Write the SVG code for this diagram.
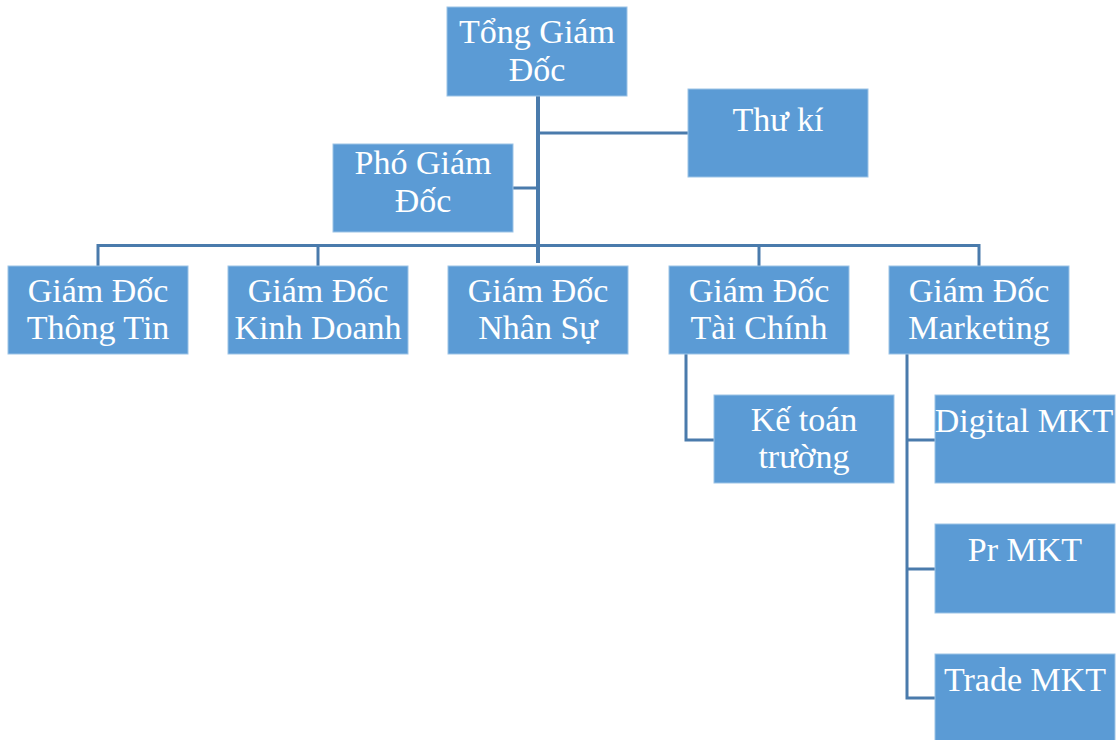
<svg xmlns="http://www.w3.org/2000/svg" width="1118" height="740" viewBox="0 0 1118 740">
<style>
.box{fill:#5B9BD5;stroke:#9cc3e6;stroke-width:1}
.t{font-family:"Liberation Serif","Times New Roman",serif;font-size:34px;fill:#ffffff;text-anchor:middle}
.c{fill:none;stroke:#4A7BAC;stroke-width:3}
</style>
<rect width="1118" height="740" fill="#ffffff"/>
<g id="connectors">
<path class="c" d="M538 96 V263" style="stroke-width:4"/>
<path class="c" d="M538 133 H688"/>
<path class="c" d="M513 188 H538"/>
<path class="c" d="M98 266 V245.5 H979 V266"/>
<path class="c" d="M318 245.5 V266"/>
<path class="c" d="M759 245.5 V266"/>
<path class="c" d="M686 354 V440 H714"/>
<path class="c" d="M907 354 V698 H935"/>
<path class="c" d="M907 440 H935"/>
<path class="c" d="M907 569 H935"/>
</g>
<g id="tong-giam-doc">
<rect class="box" x="447" y="7" width="180" height="89"/>
<text class="t" x="537" y="43">Tổng Giám</text>
<text class="t" x="537" y="81">Đốc</text>
</g>
<g id="thu-ki">
<rect class="box" x="688" y="89" width="180" height="88"/>
<text class="t" x="778" y="131">Thư kí</text>
</g>
<g id="pho-giam-doc">
<rect class="box" x="333" y="144" width="180" height="88"/>
<text class="t" x="423" y="174">Phó Giám</text>
<text class="t" x="423" y="212">Đốc</text>
</g>
<g id="gd-thong-tin">
<rect class="box" x="8" y="266" width="180" height="88"/>
<text class="t" x="98" y="302">Giám Đốc</text>
<text class="t" x="98" y="339">Thông Tin</text>
</g>
<g id="gd-kinh-doanh">
<rect class="box" x="228" y="266" width="180" height="88"/>
<text class="t" x="318" y="302">Giám Đốc</text>
<text class="t" x="318" y="339">Kinh Doanh</text>
</g>
<g id="gd-nhan-su">
<rect class="box" x="448" y="266" width="180" height="88"/>
<text class="t" x="538" y="302">Giám Đốc</text>
<text class="t" x="538" y="339">Nhân Sự</text>
</g>
<g id="gd-tai-chinh">
<rect class="box" x="669" y="266" width="180" height="88"/>
<text class="t" x="759" y="302">Giám Đốc</text>
<text class="t" x="759" y="339">Tài Chính</text>
</g>
<g id="gd-marketing">
<rect class="box" x="889" y="266" width="180" height="88"/>
<text class="t" x="979" y="302">Giám Đốc</text>
<text class="t" x="979" y="339">Marketing</text>
</g>
<g id="ke-toan-truong">
<rect class="box" x="714" y="395" width="180" height="88"/>
<text class="t" x="804" y="431">Kế toán</text>
<text class="t" x="804" y="468">trường</text>
</g>
<g id="digital-mkt">
<rect class="box" x="935" y="395" width="180" height="88"/>
<text class="t" x="1024" y="432">Digital MKT</text>
</g>
<g id="pr-mkt">
<rect class="box" x="935" y="524" width="180" height="89"/>
<text class="t" x="1025" y="561">Pr MKT</text>
</g>
<g id="trade-mkt">
<rect class="box" x="935" y="654" width="180" height="88"/>
<text class="t" x="1025" y="691">Trade MKT</text>
</g>
</svg>
